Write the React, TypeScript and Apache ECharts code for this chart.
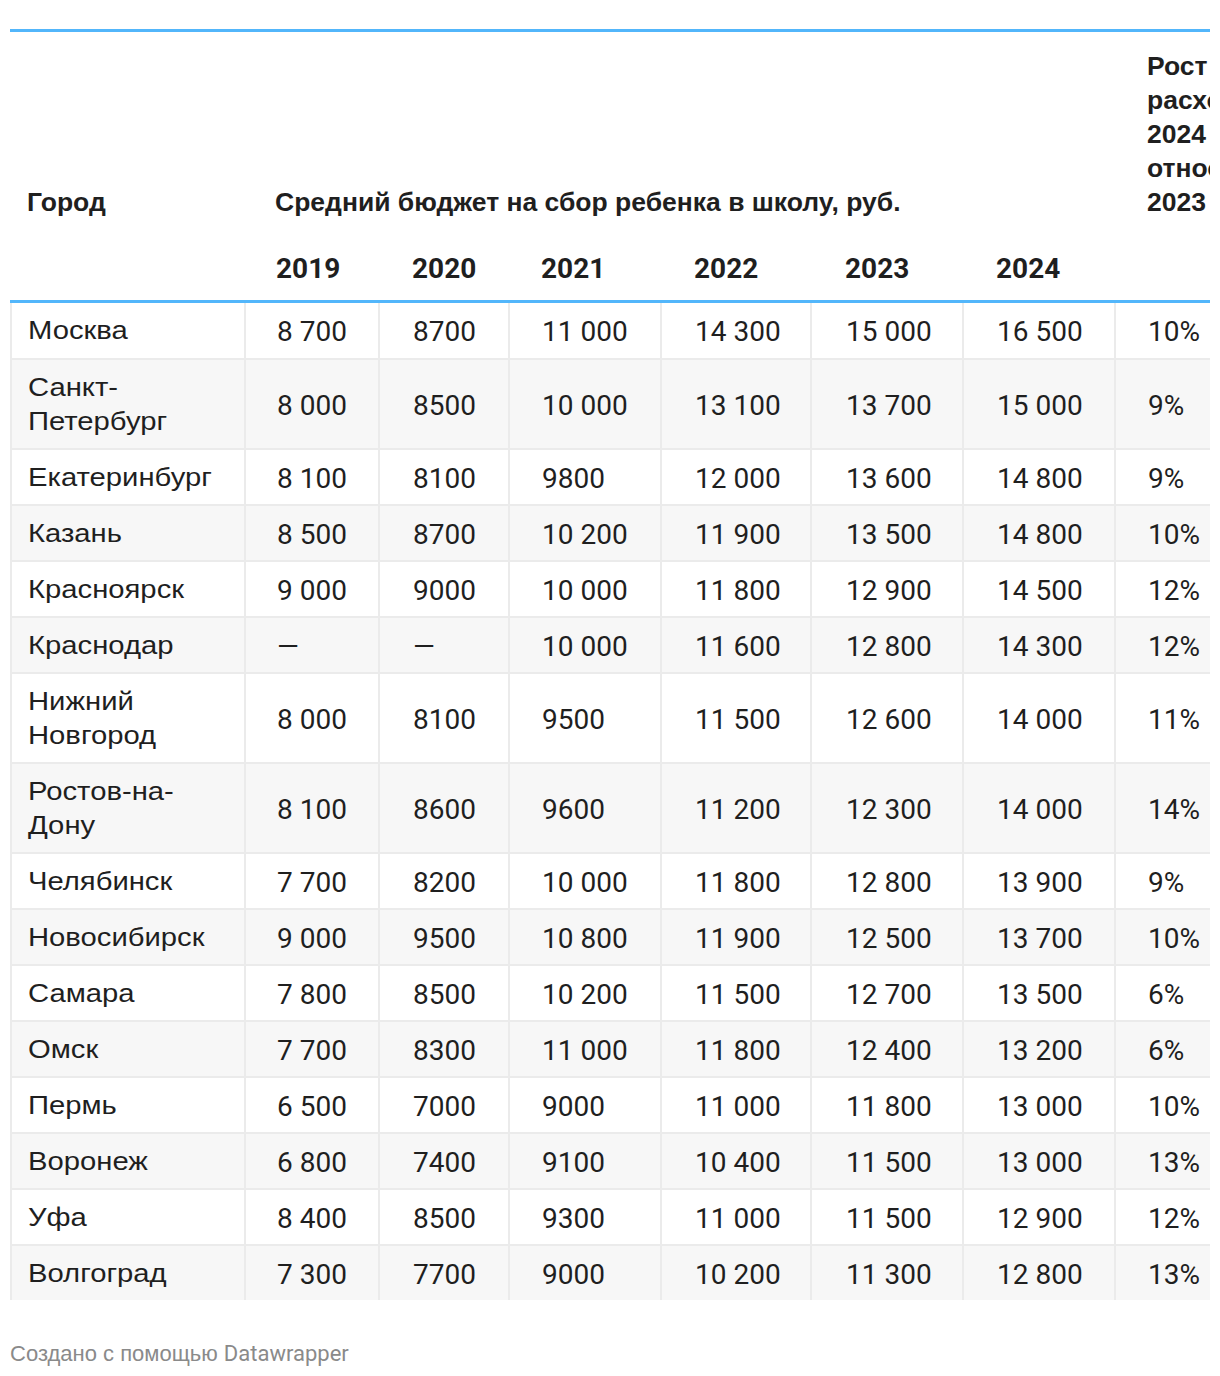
import React, { useEffect, useRef } from "react";
import * as echarts from "echarts";

const cities = [
  "Москва", "Санкт-\nПетербург", "Екатеринбург", "Казань", "Красноярск", "Краснодар",
  "Нижний\nНовгород", "Ростов-на-\nДону", "Челябинск", "Новосибирск", "Самара", "Омск",
  "Пермь", "Воронеж", "Уфа", "Волгоград",
];
const years = ["2019", "2020", "2021", "2022", "2023", "2024"];
const v2019 = [8700, 8000, 8100, 8500, 9000, null, 8000, 8100, 7700, 9000, 7800, 7700, 6500, 6800, 8400, 7300];
const v2020 = [8700, 8500, 8100, 8700, 9000, null, 8100, 8600, 8200, 9500, 8500, 8300, 7000, 7400, 8500, 7700];
const v2021 = [11000, 10000, 9800, 10200, 10000, 10000, 9500, 9600, 10000, 10800, 10200, 11000, 9000, 9100, 9300, 9000];
const v2022 = [14300, 13100, 12000, 11900, 11800, 11600, 11500, 11200, 11800, 11900, 11500, 11800, 11000, 10400, 11000, 10200];
const v2023 = [15000, 13700, 13600, 13500, 12900, 12800, 12600, 12300, 12800, 12500, 12700, 12400, 11800, 11500, 11500, 11300];
const v2024 = [16500, 15000, 14800, 14800, 14500, 14300, 14000, 14000, 13900, 13700, 13500, 13200, 13000, 13000, 12900, 12800];
const growth = [10, 9, 9, 10, 12, 12, 11, 14, 9, 10, 6, 6, 10, 13, 12, 13];

const headerCity = "Город";
const headerBudget = "Средний бюджет на сбор ребенка в школу, руб.";
const headerGrowth = "Рост\nрасходов\n2024\nотносительно\n2023";
const footer = "Создано с помощью ";
const footerBrand = "Datawrapper";

const valueCols = [v2019, v2020, v2021, v2022, v2023, v2024];

function fmt(v: number | null, col: number): string {
  if (v == null) return "—";
  const s = String(v);
  if (col === 0 || v >= 10000) return s.replace(/\B(?=(\d{3})+(?!\d))/g, " ");
  return s;
}

export default function App() {
  const ref = useRef<HTMLDivElement>(null);
  useEffect(() => {
    if (!ref.current) return;
    const chart = echarts.init(ref.current, null, { renderer: "svg" });

    const left = 10;
    const right = 1210;
    const colLines = [244, 378, 508, 660, 810, 962, 1114];
    const textX = [277, 413, 542, 695, 846, 997, 1148];
    const cityX = 28;
    const blue = "#52b6fb";
    const lineCol = "#ebebeb";
    const ink = "#1f1f1f";
    const cyr = "'Liberation Sans', Arial, Helvetica, sans-serif";
    const num = "Roboto, sans-serif";

    const els: any[] = [];
    const txt = (x: number, y: number, text: string, size: number, family: string, weight: any = "normal", fill = ink, extra: any = {}, el: any = {}) => ({
      type: "text",
      x,
      y,
      ...el,
      style: {
        text,
        fill,
        fontSize: size,
        fontFamily: family,
        fontWeight: weight,
        lineHeight: 34,
        align: "left",
        verticalAlign: "middle",
        textAlign: "left",
        textVerticalAlign: "middle",
        ...extra,
      },
    });

    // body rows
    const bodyTop = 302;
    let y = bodyTop;
    const bounds: number[] = [];
    const tops: number[] = [];
    cities.forEach((c, i) => {
      const h = c.includes("\n") ? 90 : 56;
      tops.push(y);
      if (i % 2 === 1) {
        els.push({ type: "rect", shape: { x: left, y: y, width: right - left, height: h }, style: { fill: "#f7f7f7" } });
      }
      y += h;
      bounds.push(y);
    });
    const bodyBottom = y;

    // horizontal row lines
    bounds.slice(0, -1).forEach((b) => {
      els.push({ type: "rect", shape: { x: left, y: b, width: right - left, height: 2 }, style: { fill: lineCol } });
    });
    // vertical lines
    els.push({ type: "rect", shape: { x: left, y: bodyTop + 1, width: 2, height: bodyBottom - bodyTop - 1 }, style: { fill: lineCol } });
    colLines.forEach((cx) => {
      els.push({ type: "rect", shape: { x: cx, y: bodyTop + 1, width: 2, height: bodyBottom - bodyTop - 1 }, style: { fill: lineCol } });
    });

    // cell texts
    cities.forEach((c, i) => {
      const top = i === 0 ? bodyTop + 1 : tops[i] + 2;
      const cy = (top + bounds[i]) / 2;
      els.push(txt(cityX, cy, c, 25, cyr, "normal", ink, { lineHeight: 34 }, { scaleX: 1.17 }));
      valueCols.forEach((arr, j) => {
        els.push(txt(textX[j], cy + 1, fmt(arr[i], j), 28, num));
      });
      els.push(txt(textX[6], cy + 1, growth[i] + "%", 28, num));
    });

    // header
    els.push({ type: "rect", shape: { x: left, y: 29, width: right - left, height: 3 }, style: { fill: blue } });
    els.push({ type: "rect", shape: { x: left, y: 300, width: right - left, height: 3 }, style: { fill: blue } });
    els.push(txt(27, 202, headerCity, 26.5, cyr, "bold"));
    els.push(txt(275, 202, headerBudget, 26.5, cyr, "bold"));
    els.push(txt(1147, 134, headerGrowth, 26.5, cyr, "bold"));
    years.forEach((yr, j) => {
      els.push(txt(textX[j] - 1, 268, yr, 28, num, "bold"));
    });

    // clip the overflowing last column
    els.push({ type: "rect", shape: { x: right, y: 0, width: 1220 - right, height: 1376 }, style: { fill: "#ffffff" } });

    // footer
    els.push({
      type: "text",
      x: 10,
      y: 1353,
      style: {
        text: "{a|" + footer + "}{b|" + footerBrand + "}",
        rich: {
          a: { fontFamily: cyr, fontSize: 22, fill: "#8a8a8a", color: "#8a8a8a" },
          b: { fontFamily: num, fontSize: 22, fill: "#8a8a8a", color: "#8a8a8a" },
        },
        fill: "#8a8a8a",
        align: "left",
        verticalAlign: "middle",
        textAlign: "left",
        textVerticalAlign: "middle",
      },
    });

    chart.setOption({
      animation: false,
      backgroundColor: "#ffffff",
      graphic: { elements: els },
    });
    return () => chart.dispose();
  }, []);
  return <div ref={ref} style={{ position: "absolute", left: 0, top: 0, width: 1220, height: 1376 }} />;
}
